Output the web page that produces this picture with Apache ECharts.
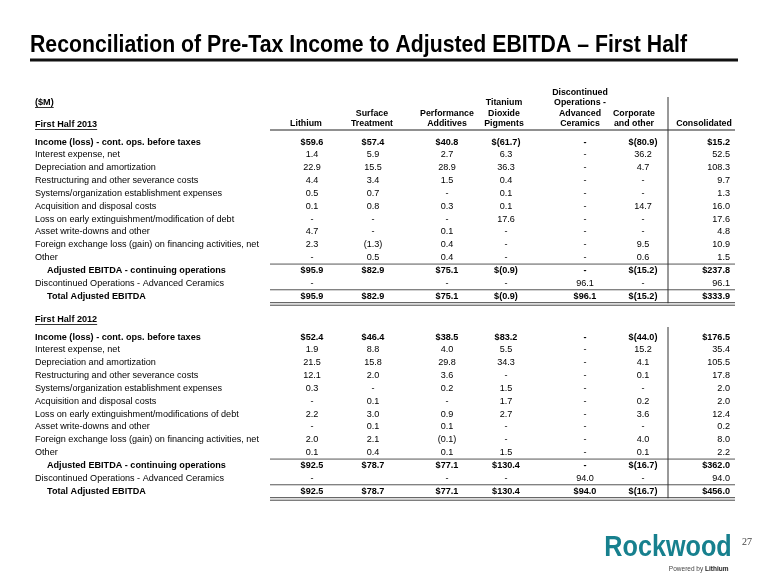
<!DOCTYPE html>
<html><head><meta charset="utf-8">
<script src="https://cdn.jsdelivr.net/npm/echarts@6/dist/echarts.min.js"></script>
<style>html,body{margin:0;padding:0;background:#fff}#c{width:780px;height:585px}</style>
</head><body><div id="c"></div>
<script>
// ---------- data ----------
const title = 'Reconciliation of Pre-Tax Income to Adjusted EBITDA \u2013 First Half';
const unitLabel = '($M)';
const section1Title = 'First Half 2013';
const section2Title = 'First Half 2012';
const columnHeaders = ['Lithium', 'Surface\nTreatment', 'Performance\nAdditives', 'Titanium\nDioxide\nPigments',
  'Discontinued\nOperations -\nAdvanced\nCeramics', 'Corporate\nand other', 'Consolidated'];

const rowLabels2013 = ['Income (loss) - cont. ops. before taxes', 'Interest expense, net', 'Depreciation and amortization',
  'Restructuring and other severance costs', 'Systems/organization establishment expenses', 'Acquisition and disposal costs',
  'Loss on early extinguishment/modification of debt', 'Asset write-downs and other',
  'Foreign exchange loss (gain) on financing activities, net', 'Other', 'Adjusted EBITDA - continuing operations',
  'Discontinued Operations - Advanced Ceramics', 'Total Adjusted EBITDA'];
const rowLabels2012 = ['Income (loss) - cont. ops. before taxes', 'Interest expense, net', 'Depreciation and amortization',
  'Restructuring and other severance costs', 'Systems/organization establishment expenses', 'Acquisition and disposal costs',
  'Loss on early extinguishment/modifications of debt', 'Asset write-downs and other',
  'Foreign exchange loss (gain) on financing activities, net', 'Other', 'Adjusted EBITDA - continuing operations',
  'Discontinued Operations - Advanced Ceramics', 'Total Adjusted EBITDA'];

const income2013   = ['$59.6', '$57.4', '$40.8', '$(61.7)', '-', '$(80.9)', '$15.2'];
const interest2013 = ['1.4', '5.9', '2.7', '6.3', '-', '36.2', '52.5'];
const deprec2013   = ['22.9', '15.5', '28.9', '36.3', '-', '4.7', '108.3'];
const restruct2013 = ['4.4', '3.4', '1.5', '0.4', '-', '-', '9.7'];
const systems2013  = ['0.5', '0.7', '-', '0.1', '-', '-', '1.3'];
const acq2013      = ['0.1', '0.8', '0.3', '0.1', '-', '14.7', '16.0'];
const debt2013     = ['-', '-', '-', '17.6', '-', '-', '17.6'];
const writedown2013= ['4.7', '-', '0.1', '-', '-', '-', '4.8'];
const fx2013       = ['2.3', '(1.3)', '0.4', '-', '-', '9.5', '10.9'];
const other2013    = ['-', '0.5', '0.4', '-', '-', '0.6', '1.5'];
const adjCont2013  = ['$95.9', '$82.9', '$75.1', '$(0.9)', '-', '$(15.2)', '$237.8'];
const discOps2013  = ['-', '', '-', '-', '96.1', '-', '96.1'];
const total2013    = ['$95.9', '$82.9', '$75.1', '$(0.9)', '$96.1', '$(15.2)', '$333.9'];

const income2012   = ['$52.4', '$46.4', '$38.5', '$83.2', '-', '$(44.0)', '$176.5'];
const interest2012 = ['1.9', '8.8', '4.0', '5.5', '-', '15.2', '35.4'];
const deprec2012   = ['21.5', '15.8', '29.8', '34.3', '-', '4.1', '105.5'];
const restruct2012 = ['12.1', '2.0', '3.6', '-', '-', '0.1', '17.8'];
const systems2012  = ['0.3', '-', '0.2', '1.5', '-', '-', '2.0'];
const acq2012      = ['-', '0.1', '-', '1.7', '-', '0.2', '2.0'];
const debt2012     = ['2.2', '3.0', '0.9', '2.7', '-', '3.6', '12.4'];
const writedown2012= ['-', '0.1', '0.1', '-', '-', '-', '0.2'];
const fx2012       = ['2.0', '2.1', '(0.1)', '-', '-', '4.0', '8.0'];
const other2012    = ['0.1', '0.4', '0.1', '1.5', '-', '0.1', '2.2'];
const adjCont2012  = ['$92.5', '$78.7', '$77.1', '$130.4', '-', '$(16.7)', '$362.0'];
const discOps2012  = ['-', '', '-', '-', '94.0', '-', '94.0'];
const total2012    = ['$92.5', '$78.7', '$77.1', '$130.4', '$94.0', '$(16.7)', '$456.0'];

const boldRows = [0, 10, 12];
const indentRows = [10, 12];

// ---------- layout ----------
const FONT = '"Liberation Sans", Arial, sans-serif';
const FS = 9.1;
const HFS = 8.8;
const labelX = 35, indentX = 47;
const colX = [312, 373, 447, 506, 585, 643, 730];      // centre (last one: right edge)
const headerX = [306, 372, 447, 504, 580, 634, 704];
const rowH = 12.85;
const sec1First = 142, sec2First = 337;
const ruleL = 270, ruleR = 735, vX = 668;

const sections = [
  { labels: rowLabels2013, rows: [income2013, interest2013, deprec2013, restruct2013, systems2013, acq2013, debt2013, writedown2013, fx2013, other2013, adjCont2013, discOps2013, total2013] },
  { labels: rowLabels2012, rows: [income2012, interest2012, deprec2012, restruct2012, systems2012, acq2012, debt2012, writedown2012, fx2012, other2012, adjCont2012, discOps2012, total2012] }
];

const chart = echarts.init(document.getElementById('c'), null, { renderer: 'canvas' });

const grids = [], xAxes = [], yAxes = [], series = [];
sections.forEach((sec, si) => {
  const first = si === 0 ? sec1First : sec2First;
  const n = sec.labels.length;
  grids.push({ left: 0, width: 780, top: first - rowH / 2, height: rowH * n });
  xAxes.push({ type: 'value', gridIndex: si, min: 0, max: 780, show: false });
  yAxes.push({ type: 'category', gridIndex: si, inverse: true, data: sec.labels.map((l, i) => i), show: false });
  const cells = [];
  sec.labels.forEach((lab, r) => {
    cells.push({ col: -1, row: r, text: lab });
    sec.rows[r].forEach((v, c) => { if (v !== '') cells.push({ col: c, row: r, text: v }); });
  });
  series.push({
    type: 'custom', xAxisIndex: si, yAxisIndex: si, silent: true,
    data: cells.map(d => [d.col === -1 ? (indentRows.includes(d.row) ? indentX : labelX) : colX[d.col], d.row]),
    renderItem: function (params, api) {
      const d = cells[params.dataIndex];
      const p = api.coord([api.value(0), api.value(1)]);
      const bold = boldRows.includes(d.row);
      let align = 'center';
      if (d.col === -1) align = 'left';
      else if (d.col === 6) align = 'right';
      return {
        type: 'text', x: p[0], y: p[1],
        style: { text: d.text, align: align, verticalAlign: 'middle', fontFamily: FONT,
          fontSize: FS, fontWeight: bold ? 'bold' : 'normal', fill: '#000' }
      };
    }
  });
});

// graphic: title, headers, rules, logo
const g = [];
function txt(x, y, text, o) {
  g.push(Object.assign({ type: 'text', x: x, y: y, silent: true,
    style: Object.assign({ text: text, fontFamily: FONT, fontSize: FS, fill: '#000', verticalAlign: 'middle' }, o || {}) }));
}
function line(x1, y1, x2, y2, w, c) {
  g.push({ type: 'line', silent: true, shape: { x1: x1, y1: y1, x2: x2, y2: y2 }, style: { stroke: c || '#333', lineWidth: w || 1 } });
}
const ctx = document.createElement('canvas').getContext('2d');
function tw(text, bold) { ctx.font = (bold ? 'bold ' : '') + FS + 'px ' + FONT; return ctx.measureText(text).width; }

// title (condensed bold)
g.push({ type: 'text', x: 30, y: 45, scaleX: 0.885, silent: true,
  style: { text: title, fontFamily: FONT, fontWeight: 'bold', fontSize: 24, fill: '#000', verticalAlign: 'middle' } });
line(30, 60, 738, 60, 3, '#111');

// unit + section titles (underlined)
txt(labelX, 102, unitLabel, { fontWeight: 'bold' });
line(labelX, 107.5, labelX + tw(unitLabel, true), 107.5, 0.8, '#000');
txt(labelX, 124, section1Title, { fontWeight: 'bold' });
line(labelX, 129.5, labelX + tw(section1Title, true), 129.5, 0.8, '#000');
txt(labelX, 319, section2Title, { fontWeight: 'bold' });
line(labelX, 324.5, labelX + tw(section2Title, true), 324.5, 0.8, '#000');

// column headers (bottom aligned at y=123)
const hLine = 10.3;
columnHeaders.forEach((h, c) => {
  const parts = h.split('\n');
  parts.forEach((p, k) => {
    txt(headerX[c], 123.5 - (parts.length - 1 - k) * hLine, p, { fontWeight: 'bold', align: 'center', fontSize: HFS });
  });
});
line(ruleL, 130, ruleR, 130, 1.2, '#222');

// section rules
[sec1First, sec2First].forEach((first, si) => {
  const y = r => first + r * rowH;
  line(ruleL, y(9.5), ruleR, y(9.5), 1, '#555');
  line(ruleL, y(11.5), ruleR, y(11.5), 1, '#555');
  line(ruleL, y(12) + 6.5, ruleR, y(12) + 6.5, 1, '#444');
  line(ruleL, y(12) + 9, ruleR, y(12) + 9, 1, '#444');
  line(vX, si === 0 ? 97 : 327, vX, y(12) + 7, 1, '#333');
});

// logo & page number
g.push({ type: 'text', x: 668, y: 548, scaleX: 0.84, silent: true,
  style: { text: 'Rockwood', fontFamily: FONT, fontWeight: 'bold', fontSize: 30, fill: '#17808e', align: 'center', verticalAlign: 'middle' } });
txt(705, 569.5, 'Powered by ', { fontSize: 6.5, fill: '#444', align: 'right' });
txt(705, 569.5, 'Lithium', { fontSize: 6.5, fontWeight: 'bold', fill: '#222', align: 'left' });
txt(742, 542, '27', { fontFamily: '"Liberation Serif", serif', fontSize: 10, fill: '#444' });

chart.setOption({
  animation: false,
  backgroundColor: '#fff',
  grid: grids, xAxis: xAxes, yAxis: yAxes, series: series, graphic: g
});
</script></body></html>
